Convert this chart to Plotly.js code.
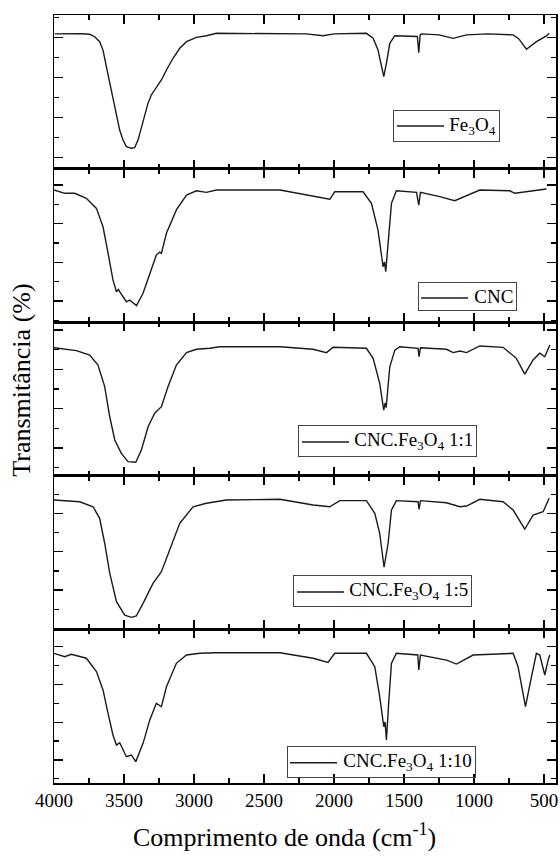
<!DOCTYPE html>
<html><head><meta charset="utf-8">
<script src="https://cdn.plot.ly/plotly-3.0.1.min.js"></script>
<style>body{margin:0;background:#fff}#chart{width:560px;height:856px}</style>
</head><body><div id="chart"></div>
<script>
// Series labels (top to bottom panels)
const seriesNames = ['Fe<sub>3</sub>O<sub>4</sub>', 'CNC', 'CNC.Fe<sub>3</sub>O<sub>4</sub> 1:1', 'CNC.Fe<sub>3</sub>O<sub>4</sub> 1:5', 'CNC.Fe<sub>3</sub>O<sub>4</sub> 1:10'];
const xTitle = 'Comprimento de onda (cm<sup>-1</sup>)';
const yTitle = 'Transmitância (%)';

// Fe3O4
const wnFe = [3995,3900,3800,3745,3709,3674,3650,3626,3602,3579,3554,3531,3507,3483,3447,3424,3400,3376,3352,3329,3305,3269,3233,3197,3150,3102,3054,2983,2912,2840,2386,2200,2079,2000,1769,1721,1686,1645,1622,1602,1566,1436,1405,1395,1385,1376,1250,1150,1054,900,721,680,626,555,483,464];
const tFe  = [81.9,82.1,82.0,81.7,80.5,78.0,73.8,65.5,57.1,48.8,40.4,33.7,28.7,25.4,24.6,24.9,28.7,34.6,41.3,47.1,51.3,55.4,58.8,63.8,69.7,74.7,78.0,80.2,81.0,82.2,82.2,81.9,81.0,81.9,82.2,79.7,73.8,60.5,68.8,77.2,81.0,80.9,80.6,72.5,81.4,81.9,81.4,79.7,81.4,81.9,81.4,79.4,74.2,78.0,80.9,82.2];

// CNC
const wnCNC = [4000,3923,3852,3769,3697,3650,3614,3579,3554,3540,3531,3483,3460,3447,3411,3364,3316,3269,3245,3233,3197,3126,3054,2983,2912,2840,2386,2150,2031,1995,1793,1733,1686,1650,1640,1631,1614,1590,1555,1411,1395,1383,1245,1138,959,745,709,600,483];
const tCNC  = [77.4,75.7,75.7,73.1,67.9,58.4,44.7,30.9,24.8,26.0,24.8,19.6,20.5,19.6,17.6,24.0,34.3,43.8,45.3,44.7,55.0,67.1,74.8,77.0,76.2,77.4,77.4,74.0,72.6,76.5,76.5,70.5,56.7,37.7,40.2,35.2,49.9,70.5,77.0,76.2,69.6,76.2,74.0,71.9,77.4,77.0,75.7,76.6,77.9];

// CNC.Fe3O4 1:1
const wn11 = [4000,3840,3745,3686,3638,3602,3566,3519,3471,3416,3376,3328,3281,3233,3186,3126,3054,2983,2888,2816,2386,2150,2054,2007,1769,1721,1674,1645,1635,1628,1602,1566,1531,1400,1393,1383,1197,1150,1100,1054,959,793,698,638,579,531,495,459];
const t11  = [71.0,69.5,67.3,62.2,51.2,35.9,24.1,17.3,13.1,12.8,19.0,30.8,37.7,41.0,51.2,62.2,68.5,70.2,70.7,71.5,71.5,70.2,68.5,71.2,70.7,65.6,52.9,39.3,43.0,40.5,61.3,69.8,71.5,70.7,66.4,71.0,70.2,68.5,69.3,68.5,71.9,71.2,65.6,57.6,64.8,68.2,66.4,72.4];

// CNC.Fe3O4 1:5
const wn15 = [4000,3816,3721,3674,3638,3602,3554,3495,3447,3412,3364,3293,3233,3174,3102,3007,2912,2769,2386,2150,2031,1959,1769,1709,1674,1643,1614,1590,1555,1400,1393,1383,1197,1102,1054,959,793,721,638,579,507,464];
const t15  = [86.9,86.0,83.4,77.4,64.4,48.8,34.0,27.0,25.8,26.5,33.1,43.5,49.6,60.9,74.8,83.4,85.2,86.9,87.3,84.3,83.4,86.6,86.6,80.0,69.6,51.9,64.4,81.7,86.6,86.0,82.1,86.6,85.5,83.4,83.8,87.3,86.0,81.7,71.7,79.1,80.8,87.8];

// CNC.Fe3O4 1:10
const wn110 = [4000,3923,3876,3769,3697,3650,3614,3579,3554,3531,3483,3447,3416,3364,3316,3269,3233,3197,3126,3054,2959,2840,2386,2150,2043,1995,1769,1709,1674,1645,1636,1626,1610,1590,1555,1402,1395,1383,1197,1126,1007,721,686,633,590,555,531,495,471,459];
const t110  = [76.5,74.7,76.0,73.9,66.8,57.1,44.7,33.2,27.9,29.1,21.7,22.6,19.1,28.8,41.2,50.0,48.2,58.8,71.2,75.6,76.5,76.8,76.8,73.9,71.7,76.5,76.5,69.4,53.5,37.6,40.1,30.6,50.0,71.2,76.5,75.6,67.7,75.6,72.9,70.8,75.6,76.5,69.4,48.2,64.1,76.5,75.6,65.0,73.0,75.6];

const xs = [wnFe, wnCNC, wn11, wn15, wn110];
const ys = [tFe, tCNC, t11, t15, t110];
const yRanges = [[14.4, 91.38], [9.02, 88.48], [5.88, 83.97], [19.53, 99.53], [7.77, 89.17]];
const yDomains = [[0.8, 1], [0.6, 0.8], [0.4, 0.6], [0.2, 0.4], [0, 0.2]];
const legendBox = [[0.676, 0.876], [0.7245, 0.652], [0.4867, 0.466], [0.4767, 0.2708], [0.4635, 0.0486]];
const legendLine = [[0.683, 0.777, 0.8555], [0.731, 0.8247, 0.6315], [0.494, 0.5876, 0.444], [0.484, 0.5777, 0.2487], [0.4701, 0.5637, 0.0264]];

const FONT = 'Liberation Serif, Times New Roman, serif';
const traces = [];
const annotations = [
  {text: xTitle, xref: 'paper', yref: 'paper', x: 0.46, y: -0.0924, xanchor: 'center', yanchor: 'bottom',
   showarrow: false, font: {family: FONT, size: 26, color: '#000'}},
  {text: yTitle, xref: 'paper', yref: 'paper', x: -0.064, y: 0.525, xanchor: 'center', yanchor: 'middle',
   textangle: -90, showarrow: false, font: {family: FONT, size: 26, color: '#000'}}
];
const shapes = [];
const layout = {
  width: 560, height: 856,
  margin: {l: 54, r: 4, t: 15, b: 73},
  showlegend: false,
  font: {family: FONT, color: '#000', size: 19},
  annotations: annotations, shapes: shapes
};

for (let k = 0; k < 5; k++) {
  const n = k + 1;
  const xa = 'x' + (n === 1 ? '' : n), ya = 'y' + (n === 1 ? '' : n);
  traces.push({
    type: 'scatter', mode: 'lines', x: xs[k], y: ys[k], name: seriesNames[k],
    xaxis: xa, yaxis: ya,
    line: {color: '#1a1a1a', width: 1.4}
  });
  const xkey = 'xaxis' + (n === 1 ? '' : n), ykey = 'yaxis' + (n === 1 ? '' : n);
  layout[xkey] = {
    anchor: ya, domain: [0, 1], range: [4000, 415],
    showline: true, linecolor: '#000', linewidth: 1.5, mirror: 'allticks',
    ticks: 'inside', ticklen: 9, tickwidth: 1.3, tickcolor: '#000',
    tickmode: 'linear', dtick: 500, tick0: 0,
    minor: {ticks: 'inside', ticklen: 5, tickwidth: 1.2, tickcolor: '#000', dtick: 250, tick0: 0},
    showticklabels: n === 5,
    showgrid: false, zeroline: false
  };
  layout[ykey] = {
    anchor: xa, domain: yDomains[k], range: yRanges[k],
    showline: true, linecolor: '#000', linewidth: 1.5, mirror: 'allticks',
    ticks: 'inside', ticklen: 9, tickwidth: 1.3, tickcolor: '#000',
    dtick: 20, tick0: 0,
    minor: {ticks: 'inside', ticklen: 5, tickwidth: 1.2, tickcolor: '#000', dtick: 10, tick0: 0},
    showticklabels: false, showgrid: false, zeroline: false
  };
  annotations.push({
    text: '\u00a0'.repeat(11) + seriesNames[k], xref: 'paper', yref: 'paper',
    x: legendBox[k][0], y: legendBox[k][1], xanchor: 'left', yanchor: 'top', align: 'left',
    showarrow: false, bordercolor: '#444', borderwidth: 1, borderpad: 3, bgcolor: 'rgba(0,0,0,0)',
    font: {family: FONT, size: 19, color: '#000'}
  });
  shapes.push({
    type: 'line', xref: 'paper', yref: 'paper', layer: 'above',
    x0: legendLine[k][0], x1: legendLine[k][1], y0: legendLine[k][2], y1: legendLine[k][2],
    line: {color: '#1a1a1a', width: 1.4}
  });
}

Plotly.newPlot('chart', traces, layout, {displayModeBar: false, staticPlot: true});
</script></body></html>
